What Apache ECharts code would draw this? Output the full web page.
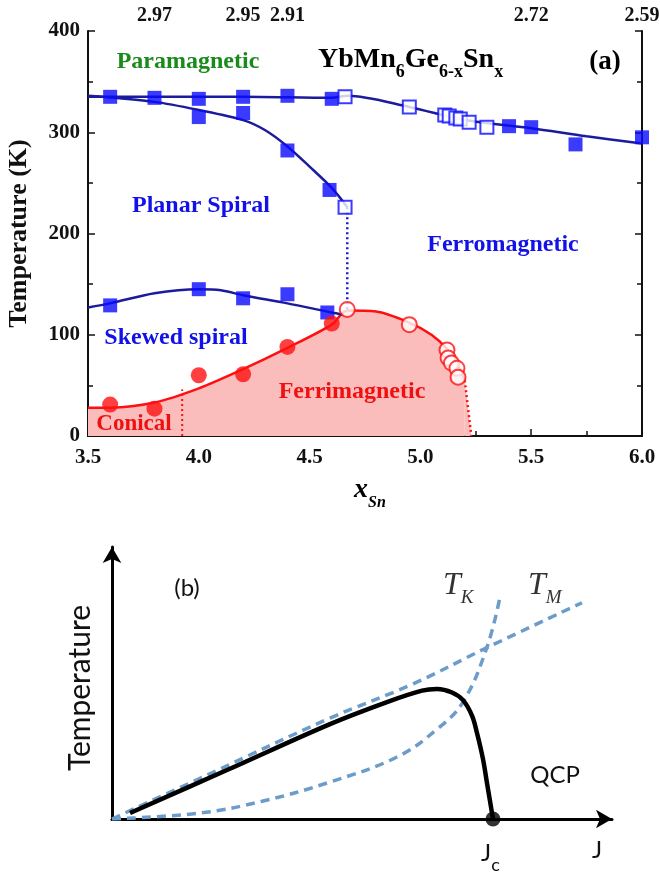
<!DOCTYPE html>
<html><head><meta charset="utf-8">
<script src="https://cdn.jsdelivr.net/npm/echarts@6/dist/echarts.min.js"></script>
<style>html,body{margin:0;padding:0;background:#fff}#c{width:660px;height:879px}</style>
</head><body><div id="c"></div>
<script>
// ---------- Panel (a) data ----------
const xTicksTop = [3.8, 4.2, 4.4, 5.5, 6.0];
const xTickLabelsTop = ['2.97', '2.95', '2.91', '2.72', '2.59'];
const paraLine = [[3.5,335],[3.8,335],[4.2,335],[4.6,334],[4.67,336],[4.95,325],[5.2,312],[5.5,304],[5.75,296],[6.0,289]];
const planarLine = [[3.5,336],[3.8,330],[4.0,322],[4.2,312],[4.3,302],[4.4,286],[4.5,266],[4.6,245],[4.67,226]];
const skewedLine = [[3.5,127],[3.6,131],[3.8,141],[4.0,145],[4.1,144],[4.2,139],[4.4,131],[4.6,122],[4.65,120]];
const ferriLine = [[3.5,28],[3.6,28],[3.8,33],[4.0,47],[4.2,66],[4.4,87],[4.6,110],[4.67,124],[4.8,123],[4.95,112],[5.05,100],[5.12,86],[5.17,70],[5.2,55]];
const ferriTail = [[5.2,55],[5.23,0]];
const blueDotted = [[4.67,226],[4.67,125]];
const redDotted = [[3.925,0],[3.925,46]];
const filledSquares = [[3.6,335],[3.8,334],[4.0,333],[4.0,315],[4.2,335],[4.2,319],[4.4,336],[4.4,282],[4.6,333],[4.59,243],
  [3.6,129],[4.0,145],[4.2,136],[4.4,140],[4.58,122],[5.4,306],[5.5,305],[5.7,288],[6.0,295]];
const openSquares = [[4.66,335],[4.95,325],[5.11,317],[5.13,316],[5.16,314],[5.18,313],[5.22,310],[5.3,305],[4.66,226]];
const filledCircles = [[3.6,31],[3.8,27],[4.0,60],[4.2,61],[4.4,88],[4.6,111]];
const openCircles = [[4.67,125],[4.95,110],[5.12,85],[5.125,77],[5.14,72],[5.165,67],[5.17,58]];

// ---------- Panel (b) data ----------
const tmCurve = [[0,0],[2,1.7],[4.36,3.71],[6,4.95],[7.5,6.3],[9.4,7.95]];
const tkCurve = [[0,0],[1.76,0.22],[3,0.65],[4.36,1.36],[5.7,2.28],[6.5,3.3],[7.02,4.3],[7.5,6.32],[7.76,8.16]];
const orderCurve = [[0.36,0.22],[2.3,1.8],[4.36,3.49],[5.5,4.3],[6.2,4.72],[6.5,4.78],[6.8,4.65],[7.02,4.37],[7.2,3.8],[7.3,3.16],[7.42,2.2],[7.5,1.32],[7.62,0]];
const qcpPoint = [[7.62,0]];

const SERIF = '"Liberation Serif","Times New Roman",serif';
const SANS = 'Lato,"Liberation Sans",sans-serif';
const NAVY = '#1b1b9e', BLUE = '#0a0aff', RED = '#ff1010', PINK = '#fbbcbc', DASH = '#6c9cc9';

const chart = echarts.init(document.getElementById('c'), null, {renderer:'canvas'});
const lab = {fontFamily: SERIF, fontWeight: 'bold', fontSize: 21, color: '#111'};
const axLine = {show: true, lineStyle: {color: '#111', width: 2}};
const sub = (f) => ({font: f, fill: '#000', verticalAlign: 'bottom', padding: [0,0,-7,0]});

chart.setOption({
  animation: false,
  grid: [
    {left: 88, right: 18, top: 31, bottom: 443, outerBoundsMode: 'none', containLabel: false},
    {left: 112, right: 48, top: 547, bottom: 60, outerBoundsMode: 'none', containLabel: false}
  ],
  xAxis: [
    {gridIndex:0, type:'value', min:3.5, max:6, interval:0.5, axisLine:axLine,
     axisTick:{inside:true, length:7, lineStyle:{color:'#111', width:1.5}},
     minorTick:{show:true, splitNumber:2, length:5, lineStyle:{color:'#111', width:1.5}},
     axisLabel:{...lab, margin:11, formatter: v => v.toFixed(1)}, splitLine:{show:false}},
    {gridIndex:0, type:'value', position:'top', min:3.5, max:6, axisLine:axLine,
     axisTick:{show:true, inside:false, length:6, customValues: xTicksTop, lineStyle:{color:'#111', width:1.5}},
     axisLabel:{...lab, fontSize:20, margin:5, customValues: xTicksTop,
       formatter: v => { const i = xTicksTop.findIndex(t => Math.abs(t - v) < 1e-6); return i >= 0 ? xTickLabelsTop[i] : ''; }},
     splitLine:{show:false}},
    {gridIndex:1, type:'value', min:0, max:10, axisLine:{show:true, symbol:['none','arrow'], symbolSize:[14,16], lineStyle:{color:'#000', width:3}},
     axisTick:{show:false}, axisLabel:{show:false}, splitLine:{show:false}}
  ],
  yAxis: [
    {gridIndex:0, type:'value', min:0, max:400, interval:100, axisLine:axLine,
     axisTick:{inside:true, length:7, lineStyle:{color:'#111', width:1.5}},
     minorTick:{show:true, splitNumber:2, length:5, lineStyle:{color:'#111', width:1.5}},
     axisLabel:{...lab, margin:8}, splitLine:{show:false},
     name:'Temperature (K)', nameLocation:'middle', nameGap:56,
     nameTextStyle:{fontFamily:SERIF, fontWeight:'bold', fontSize:26, color:'#111'}},
    {gridIndex:0, type:'value', position:'right', min:0, max:400, interval:100, axisLine:axLine,
     axisTick:{inside:true, length:7, lineStyle:{color:'#111', width:1.5}},
     minorTick:{show:true, splitNumber:2, length:5, lineStyle:{color:'#111', width:1.5}},
     axisLabel:{show:false}, splitLine:{show:false}},
    {gridIndex:1, type:'value', min:0, max:10, axisLine:{show:true, symbol:['none','arrow'], symbolSize:[14,16], lineStyle:{color:'#000', width:3}},
     axisTick:{show:false}, axisLabel:{show:false}, splitLine:{show:false}}
  ],
  series: [
    {type:'line', data:ferriLine, smooth:0.3, symbol:'none', lineStyle:{color:RED, width:2.5}, areaStyle:{color:PINK, opacity:1}, z:1},
    {type:'line', data:ferriTail, symbol:'none', lineStyle:{color:RED, width:2.5, type:[2,3]}, areaStyle:{color:PINK, opacity:1}, z:1},
    {type:'line', data:redDotted, symbol:'none', lineStyle:{color:RED, width:2, type:[2,3]}, z:2},
    {type:'line', data:blueDotted, symbol:'none', lineStyle:{color:'#1a1ad0', width:2.5, type:[2,3]}, z:2},
    {type:'line', data:paraLine, smooth:0.3, symbol:'none', lineStyle:{color:NAVY, width:2.5}, z:3},
    {type:'line', data:planarLine, smooth:0.3, symbol:'none', lineStyle:{color:NAVY, width:2.5}, z:3},
    {type:'line', data:skewedLine, smooth:0.3, symbol:'none', lineStyle:{color:NAVY, width:2.5}, z:3},
    {type:'scatter', data:filledSquares, symbol:'rect', symbolSize:14, itemStyle:{color:BLUE}, z:5},
    {type:'scatter', data:openSquares, symbol:'rect', symbolSize:13, itemStyle:{color:'#fff', borderColor:BLUE, borderWidth:2}, z:5},
    {type:'scatter', data:filledCircles, symbol:'circle', symbolSize:16, itemStyle:{color:RED}, z:5},
    {type:'scatter', data:openCircles, symbol:'circle', symbolSize:15, itemStyle:{color:'#fff', borderColor:RED, borderWidth:2}, z:5},
    // panel (b)
    {type:'line', xAxisIndex:2, yAxisIndex:2, data:tmCurve, smooth:0.4, symbol:'none', lineStyle:{color:DASH, width:3.5, type:[9,6]}, z:3},
    {type:'line', xAxisIndex:2, yAxisIndex:2, data:tkCurve, smooth:0.4, symbol:'none', lineStyle:{color:DASH, width:3.5, type:[9,6]}, z:3},
    {type:'line', xAxisIndex:2, yAxisIndex:2, data:orderCurve, smooth:0.35, symbol:'none', lineStyle:{color:'#000', width:4.5}, z:4},
    {type:'scatter', xAxisIndex:2, yAxisIndex:2, data:qcpPoint, symbol:'circle', symbolSize:15, itemStyle:{color:'#000'}, z:5}
  ],
  graphic: [
    {type:'text', z:100, x:188, y:62, style:{text:'Paramagnetic', font:'bold 24px '+SERIF, fill:'#1a8a1a', align:'center', verticalAlign:'middle'}},
    {type:'text', z:100, x:318, y:46, style:{text:'{m|YbMn}{s|6}{m|Ge}{s|6-x}{m|Sn}{s|x}',
      rich:{m:{font:'bold 28px '+SERIF, fill:'#000', verticalAlign:'bottom'}, s:sub('bold 18px '+SERIF)}}},
    {type:'text', z:100, x:605, y:62, style:{text:'(a)', font:'bold 27px '+SERIF, fill:'#000', align:'center', verticalAlign:'middle'}},
    {type:'text', z:100, x:201, y:206, style:{text:'Planar Spiral', font:'bold 24px '+SERIF, fill:'#1212e8', align:'center', verticalAlign:'middle'}},
    {type:'text', z:100, x:503, y:245, style:{text:'Ferromagnetic', font:'bold 24px '+SERIF, fill:'#1212e8', align:'center', verticalAlign:'middle'}},
    {type:'text', z:100, x:176, y:338, style:{text:'Skewed spiral', font:'bold 24px '+SERIF, fill:'#1212e8', align:'center', verticalAlign:'middle'}},
    {type:'text', z:100, x:352, y:392, style:{text:'Ferrimagnetic', font:'bold 24px '+SERIF, fill:'#f01010', align:'center', verticalAlign:'middle'}},
    {type:'text', z:100, x:134, y:424, style:{text:'Conical', font:'bold 23px '+SERIF, fill:'#f01010', align:'center', verticalAlign:'middle'}},
    {type:'text', z:100, x:354, y:476, style:{text:'{x|x}{s|Sn}', rich:{x:{font:'italic bold 28px '+SERIF, fill:'#000', verticalAlign:'bottom'}, s:sub('italic bold 16px '+SERIF)}}},
    // panel (b)
    {type:'text', z:100, x:187, y:588, style:{text:'(b)', font:'24px '+SANS, fill:'#111', align:'center', verticalAlign:'middle'}},
    {type:'text', z:100, x:80, y:688, rotation:Math.PI/2, style:{text:'Temperature', font:'30px '+SANS, fill:'#111', align:'center', verticalAlign:'middle'}},
    {type:'text', z:100, x:443, y:570, style:{text:'{t|T}{s|K}', rich:{t:{font:'italic 32px '+SERIF, fill:'#333', verticalAlign:'bottom', height:32}, s:{font:'italic 19px '+SERIF, fill:'#333', verticalAlign:'bottom', height:20, padding:[0,0,-6,0]}}}},
    {type:'text', z:100, x:528, y:570, style:{text:'{t|T}{s|M}', rich:{t:{font:'italic 32px '+SERIF, fill:'#333', verticalAlign:'bottom', height:32}, s:{font:'italic 19px '+SERIF, fill:'#333', verticalAlign:'bottom', height:20, padding:[0,0,-6,0]}}}},
    {type:'text', z:100, x:555, y:775, style:{text:'QCP', font:'24px '+SANS, fill:'#111', align:'center', verticalAlign:'middle'}},
    {type:'text', z:100, x:481, y:840, style:{text:'{j|J}{s|c}', rich:{j:{font:'24px '+SANS, fill:'#111', verticalAlign:'bottom', height:26}, s:{font:'18px '+SANS, fill:'#111', verticalAlign:'bottom', height:18, padding:[0,0,-8,0]}}}},
    {type:'text', z:100, x:597, y:850, style:{text:'J', font:'24px '+SANS, fill:'#111', align:'center', verticalAlign:'middle'}}
  ]
});
</script></body></html>
